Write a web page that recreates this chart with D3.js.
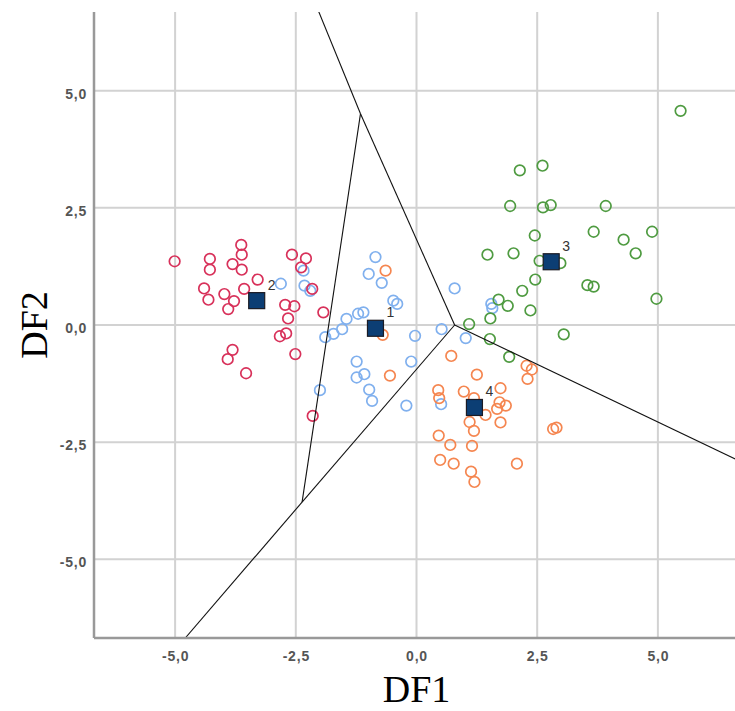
<!DOCTYPE html>
<html>
<head>
<meta charset="utf-8">
<script src="https://cdn.jsdelivr.net/npm/d3@7"></script>
<style>
  html, body { margin: 0; padding: 0; background: #fff; }
  svg { display: block; }
</style>
</head>
<body>
<div id="chart"></div>
<script>
// discriminant scores per group
const group1 = [[-2.81,0.88],[-2.34,1.16],[-2.32,0.84],[-2.20,0.73],[-1.45,0.13],[-1.54,-0.09],[-1.72,-0.19],[-1.89,-0.26],[-2.00,-1.39],
  [-0.85,1.45],[-0.99,1.09],[-0.72,0.90],[-0.48,0.52],[-0.40,0.45],[-1.10,0.27],[-1.21,0.24],[-0.03,-0.23],[0.52,-0.09],
  [0.79,0.78],[1.02,-0.28],[-1.24,-0.78],[-0.11,-0.78],[-1.08,-1.05],[-1.24,-1.12],[-0.98,-1.38],[-0.92,-1.62],[-0.21,-1.72],
  [0.51,-1.69],[1.55,0.45],[1.57,0.36]];
const group2 = [[-5.01,1.36],[-4.28,1.41],[-4.28,1.18],[-3.63,1.71],[-3.62,1.50],[-3.81,1.30],[-3.62,1.18],[-3.29,0.97],[-4.40,0.78],
  [-4.31,0.54],[-3.98,0.66],[-3.78,0.51],[-3.90,0.34],[-3.57,0.77],[-2.58,1.50],[-2.29,1.42],[-2.39,1.23],[-2.16,0.77],
  [-2.72,0.43],[-2.53,0.40],[-2.66,0.14],[-2.70,-0.18],[-2.83,-0.24],[-1.93,0.27],[-3.81,-0.53],[-3.91,-0.73],[-3.53,-1.03],
  [-2.51,-0.62],[-2.15,-1.94]];
const group3 = [[5.47,4.57],[2.14,3.30],[2.61,3.40],[1.94,2.54],[2.62,2.51],[2.78,2.56],[3.92,2.54],[2.45,1.91],[3.67,1.99],
  [4.29,1.82],[4.88,1.99],[4.54,1.53],[1.47,1.50],[2.01,1.53],[2.55,1.37],[2.98,1.32],[2.46,0.97],[2.19,0.73],[3.54,0.85],
  [3.67,0.82],[4.97,0.56],[1.70,0.54],[1.89,0.41],[1.53,0.14],[2.36,0.31],[1.09,0.02],[1.52,-0.30],[3.05,-0.20],[1.92,-0.68]];
const group4 = [[-0.64,1.16],[-0.70,-0.21],[0.72,-0.66],[-0.55,-1.08],[0.45,-1.39],[0.47,-1.56],[0.98,-1.42],[1.25,-1.06],
  [1.19,-1.56],[1.74,-1.35],[1.72,-1.65],[1.85,-1.72],[1.67,-1.79],[1.43,-1.92],[1.74,-2.08],[1.10,-2.07],[1.19,-2.26],
  [0.46,-2.36],[0.70,-2.56],[1.15,-2.58],[0.49,-2.88],[0.77,-2.96],[1.13,-3.13],[1.20,-3.35],[2.08,-2.96],[2.28,-0.87],
  [2.39,-0.95],[2.30,-1.15],[2.83,-2.22],[2.90,-2.19]];

const centroidLabels = ["1", "2", "3", "4"];
const centroids = [[-0.85,-0.07],[-3.31,0.52],[2.79,1.35],[1.20,-1.76]];

// territorial map boundaries (segments between group regions)
const boundaries = [
  [[-1.16,4.51],[-2.05,6.75]],   // 2|3
  [[-1.16,4.51],[-2.37,-3.78]],  // 1|2
  [[-1.16,4.51],[0.79,0.0]],     // 1|3
  [[-2.37,-3.78],[0.79,0.0]],    // 1|4
  [[-2.37,-3.78],[-4.79,-6.68]], // 2|4
  [[0.79,0.0],[6.75,-2.93]]      // 3|4
];

const xTicks = [-5, -2.5, 0, 2.5, 5];
const yTicks = [-5, -2.5, 0, 2.5, 5];
const DOMAIN = [-6.68, 6.68];

const W = 735, H = 711;
const M = { top: 12, left: 94 };
const PW = 645, PH = 626;

const groups = [
  { pts: group1, color: "#80b0ee" },
  { pts: group2, color: "#d8315a" },
  { pts: group3, color: "#4f9b41" },
  { pts: group4, color: "#f58650" }
];

const fmt = v => d3.format(".1f")(v).replace(".", ",").replace("−", "-");

const svg = d3.select("#chart").append("svg").attr("width", W).attr("height", H);
svg.append("defs").append("clipPath").attr("id", "plot")
  .append("rect").attr("width", PW).attr("height", PH);

const x = d3.scaleLinear().domain(DOMAIN).range([0, PW]);
const y = d3.scaleLinear().domain(DOMAIN).range([PH, 0]);

const g = svg.append("g").attr("transform", `translate(${M.left},${M.top})`);

// grid
g.append("g").selectAll("line").data(xTicks).join("line")
  .attr("x1", d => x(d)).attr("x2", d => x(d)).attr("y1", 0).attr("y2", PH)
  .attr("stroke", "#d2d2d2").attr("stroke-width", 2);
g.append("g").selectAll("line").data(yTicks).join("line")
  .attr("y1", d => y(d)).attr("y2", d => y(d)).attr("x1", 0).attr("x2", PW)
  .attr("stroke", "#d2d2d2").attr("stroke-width", 2);

// points
const pg = g.append("g").attr("clip-path", "url(#plot)");
groups.forEach(grp => {
  pg.append("g").selectAll("circle").data(grp.pts).join("circle")
    .attr("cx", d => x(d[0])).attr("cy", d => y(d[1])).attr("r", 5.3)
    .attr("fill", "none").attr("stroke", grp.color).attr("stroke-width", 1.7);
});

// boundary lines
g.append("g").attr("clip-path", "url(#plot)").selectAll("line").data(boundaries).join("line")
  .attr("x1", d => x(d[0][0])).attr("y1", d => y(d[0][1]))
  .attr("x2", d => x(d[1][0])).attr("y2", d => y(d[1][1]))
  .attr("stroke", "#111").attr("stroke-width", 1.1);

// centroids
const cg = g.append("g");
cg.selectAll("rect").data(centroids).join("rect")
  .attr("x", d => x(d[0]) - 8).attr("y", d => y(d[1]) - 8)
  .attr("width", 16).attr("height", 16)
  .attr("fill", "#0c3e74").attr("stroke", "#1b1b24").attr("stroke-width", 1.2);
cg.selectAll("text").data(centroids).join("text")
  .attr("x", d => x(d[0]) + 11).attr("y", d => y(d[1]) - 11)
  .attr("font-family", "Liberation Sans, Arial, sans-serif").attr("font-size", 14)
  .attr("fill", "#333").text((d, i) => centroidLabels[i]);

// axes: lines on left and bottom only
const xAxis = d3.axisBottom(x).tickValues(xTicks).tickFormat(fmt).tickSize(0).tickPadding(13);
const yAxis = d3.axisLeft(y).tickValues(yTicks).tickFormat(fmt).tickSize(0).tickPadding(7);
const ax = g.append("g").attr("transform", `translate(0,${PH})`).call(xAxis);
const ay = g.append("g").call(yAxis);
[ax, ay].forEach(a => {
  a.select(".domain").remove();
  a.selectAll("text").attr("font-family", "Liberation Sans, Arial, sans-serif")
    .attr("font-size", 14).attr("font-weight", 700).attr("letter-spacing", 0.8).attr("fill", "#555");
});
ay.selectAll("text").attr("dy", "0.55em");
g.append("line").attr("x1", 0).attr("x2", 0).attr("y1", 0).attr("y2", PH)
  .attr("stroke", "#999").attr("stroke-width", 2.5);
g.append("line").attr("x1", 0).attr("x2", PW).attr("y1", PH).attr("y2", PH)
  .attr("stroke", "#999").attr("stroke-width", 2.5);

// axis titles
svg.append("text").attr("x", M.left + x(0)).attr("y", 702).attr("text-anchor", "middle")
  .attr("font-family", "Liberation Serif, Times New Roman, serif").attr("font-size", 38)
  .attr("fill", "#000").text("DF1");
svg.append("text").attr("transform", `translate(47,${M.top + y(0)}) rotate(-90)`)
  .attr("text-anchor", "middle")
  .attr("font-family", "Liberation Serif, Times New Roman, serif").attr("font-size", 38)
  .attr("fill", "#000").text("DF2");
</script>
</body>
</html>
